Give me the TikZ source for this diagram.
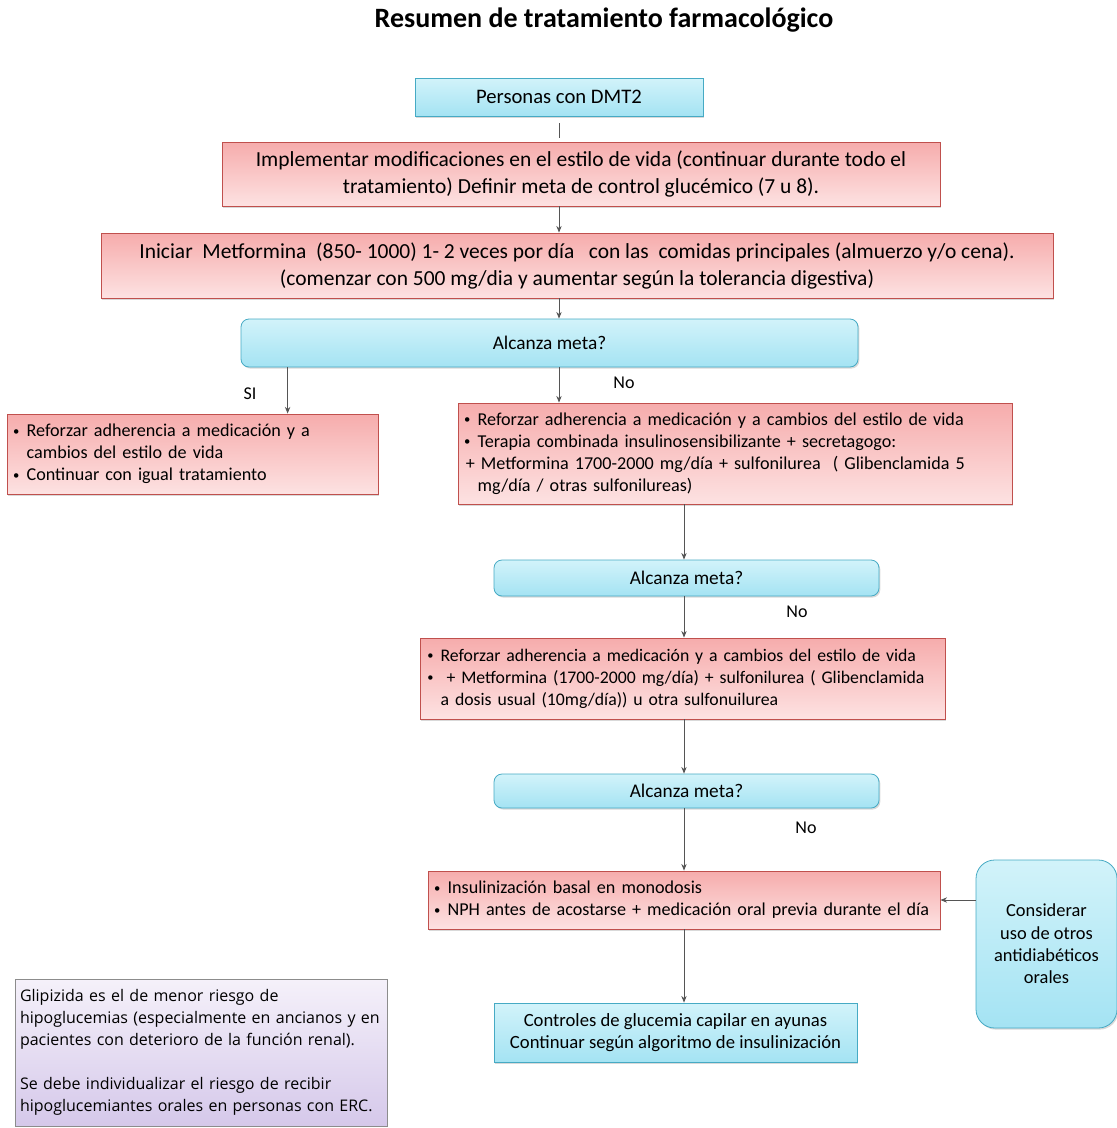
\documentclass[tikz,border=0pt]{standalone}
\usepackage{fontspec}
\setmainfont{Carlito}
\newfontfamily\notefont{Open Sans}
\usepackage{xcolor}
\definecolor{rosetop}{HTML}{F6ACAC}
\definecolor{rosebot}{HTML}{FDE2E2}
\definecolor{roseline}{HTML}{C0504D}
\definecolor{cyantop}{HTML}{D2F3FA}
\definecolor{cyanbot}{HTML}{A4E3F3}
\definecolor{cyanline}{HTML}{46AAC4}
\definecolor{liltop}{HTML}{F5F1FA}
\definecolor{lilbot}{HTML}{D5C8EA}
\definecolor{lilline}{HTML}{8C8C8C}
\definecolor{wire}{HTML}{555555}
\usetikzlibrary{arrows.meta,positioning,shadows}
\newcommand\pxu{0.75pt}
\newcommand\bul{\makebox[0.75em][l]{\raisebox{.15ex}{\scalebox{.7}{\textbullet}}}}
\newcommand\ind{\hspace*{0.75em}}
\hyphenpenalty=10000
\tikzset{
  >={Stealth[length=5pt,width=4pt]},
  shade/.style  ={drop shadow={shadow xshift=1pt,shadow yshift=-1.2pt,opacity=.3}},
  redbox/.style ={draw=roseline,line width=.6pt,top color=rosetop,bottom color=rosebot,
                  shade,inner sep=0pt,align=center,font=\fontsize{16.1}{20.25}\selectfont},
  redlist/.style={redbox,align=left,inner xsep=6*\pxu,
                  font=\fontsize{13.6}{16.5}\selectfont},
  cyanbox/.style={draw=cyanline,line width=.6pt,top color=cyantop,bottom color=cyanbot,
                  shade,inner sep=0pt,align=center,font=\fontsize{14}{16}\selectfont},
  meta/.style   ={cyanbox,rounded corners=6pt,font=\fontsize{14.5}{16}\selectfont},
  notebox/.style={draw=lilline,line width=.6pt,top color=liltop,bottom color=lilbot,
                  inner sep=0pt,inner xsep=5*\pxu,align=left,
                  font=\notefont\fontsize{12}{16.5}\selectfont},
  lbl/.style    ={font=\fontsize{13.5}{14}\selectfont,inner sep=1pt},
  flow/.style   ={->,draw=wire,line width=.7pt},
}
\begin{document}
\begin{tikzpicture}[x=0.75pt,y=-0.75pt]
\useasboundingbox (0,0) rectangle (1117,1128);
% spines
\coordinate (axis) at (559,0);
\coordinate (axisb) at (684,0);
% title
\node[font=\fontsize{21}{24}\selectfont\bfseries] (titulo) at (604,20)
  {Resumen de tratamiento farmacológico};
% nodes
\node[cyanbox,minimum width=288*\pxu,minimum height=38*\pxu,
      font=\fontsize{15.5}{18}\selectfont] (dmt) at (559,97)
  {Personas con DMT2};
\node[redbox,minimum width=718*\pxu,minimum height=64*\pxu] (estilo) at (581,174)
  {Implementar modificaciones en el estilo de vida (continuar durante todo el\\
   tratamiento) Definir meta de control glucémico (7 u 8).};
\node[redbox,minimum width=952*\pxu,minimum height=65*\pxu] (metf) at (577,265.5)
  {Iniciar\ \ Metformina\ \ (850- 1000) 1- 2 veces por día\ \ \ con las\ \ comidas principales (almuerzo y/o cena).\\
   (comenzar con 500 mg/dia y aumentar según la tolerancia digestiva)};
\node[meta,minimum width=617*\pxu,minimum height=48*\pxu] (meta1) at (549.5,343)
  {Alcanza meta?};
\node[redlist,text width=359*\pxu,minimum height=80*\pxu] (si) at (192.5,454)
  {\bul Reforzar adherencia a medicación y a\\
   \ind cambios del estilo de vida\\
   \bul Continuar con igual tratamiento};
\node[redlist,text width=542*\pxu,minimum height=101*\pxu] (combi) at (735,453.5)
  {\bul Reforzar adherencia a medicación y a cambios del estilo de vida\\
   \bul Terapia combinada insulinosensibilizante + secretagogo:\\
   \hspace*{.1em}+ Metformina 1700-2000 mg/día + sulfonilurea\ \ ( Glibenclamida 5\\
   \ind mg/día / otras sulfonilureas)};
\node[meta,minimum width=385*\pxu,minimum height=36*\pxu] (meta2) at (686.5,578)
  {Alcanza meta?};
\node[redlist,text width=521*\pxu,inner xsep=2*\pxu,minimum height=81*\pxu,
      font=\fontsize{13.3}{16.5}\selectfont] (usual) at (682.5,678.5)
  {\hspace*{.3em}\bul Reforzar adherencia a medicación y a cambios del estilo de vida\\
   \hspace*{.3em}\bul\ + Metformina (1700-2000 mg/día) + sulfonilurea ( Glibenclamida\\
   \hspace*{.3em}\ind a dosis usual (10mg/día)) u otra sulfonuilurea};
\node[meta,minimum width=385*\pxu,minimum height=34*\pxu] (meta3) at (686.5,791)
  {Alcanza meta?};
\node[redlist,text width=500*\pxu,minimum height=58*\pxu] (insul) at (684,900)
  {\bul Insulinización basal en monodosis\\
   \bul NPH antes de acostarse + medicación oral previa durante el día};
\node[cyanbox,rounded corners=14pt,minimum width=141*\pxu,minimum height=168*\pxu,
      font=\fontsize{13.8}{16.7}\selectfont] (otros) at (1046.5,944)
  {Considerar\\uso de otros\\antidiabéticos\\orales};
\node[cyanbox,minimum width=363*\pxu,minimum height=59*\pxu] (control) at (675.5,1032.5)
  {Controles de glucemia capilar en ayunas\\Continuar según algoritmo de insulinización};
\node[notebox,text width=362*\pxu,minimum height=147*\pxu] (nota) at (201,1052.5)
  {Glipizida es el de menor riesgo de\\
   hipoglucemias (especialmente en ancianos y en\\
   pacientes con deterioro de la función renal).\\[16.5pt]
   Se debe individualizar el riesgo de recibir\\
   hipoglucemiantes orales en personas con ERC.};
% connectors
\draw[draw=wire,line width=.7pt,shorten <=5pt,shorten >=3pt] (dmt.south) -- (dmt.south |- estilo.north);
\draw[flow] (estilo.south -| axis) -- (metf.north -| axis);
\draw[flow] (metf.south -| axis) -- (meta1.north -| axis);
\draw[flow] ([xshift=47*\pxu]meta1.south west) -- ([xshift=47*\pxu]meta1.south west |- si.north);
\draw[flow] (meta1.south -| axis) -- (combi.north -| axis);
\draw[flow] (combi.south -| axisb) -- (meta2.north -| axisb);
\draw[flow] (meta2.south -| axisb) -- (usual.north -| axisb);
\draw[flow] (usual.south -| axisb) -- (meta3.north -| axisb);
\draw[flow] (meta3.south -| axisb) -- (insul.north -| axisb);
\draw[flow] (insul.south -| axisb) -- (control.north -| axisb);
\draw[flow] (otros.west |- insul.east) -- (insul.east);
% labels
\node[lbl] (lsi) at (250,394) {SI};
\node[lbl] (lno1) at (624,383) {No};
\node[lbl] (lno2) at (797,612) {No};
\node[lbl] (lno3) at (806,828) {No};
\end{tikzpicture}
\end{document}
